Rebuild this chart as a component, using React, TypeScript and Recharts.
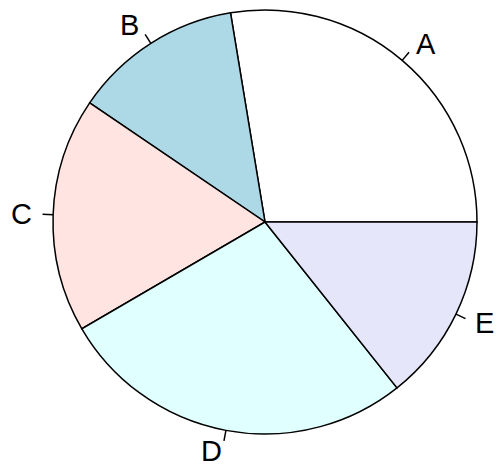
import React from 'react'
import { PieChart, Pie, Cell } from 'recharts'

const labels = ['A', 'B', 'C', 'D', 'E']
const values = [27.6, 12.9, 17.9, 27.3, 14.3]
const colors = ['#FFFFFF', '#ADD8E6', '#FFE4E1', '#E0FFFF', '#E6E6FA']

const data = labels.map((name, i) => ({ name, value: values[i] }))

const RAD = Math.PI / 180

function renderLabel(props: any) {
  const { cx, cy, midAngle, outerRadius, name } = props
  const c = Math.cos(-midAngle * RAD)
  const s = Math.sin(-midAngle * RAD)
  const x1 = cx + outerRadius * c
  const y1 = cy + outerRadius * s
  const x2 = cx + outerRadius * 1.05 * c
  const y2 = cy + outerRadius * 1.05 * s
  const tx = cx + outerRadius * 1.1 * c
  const ty = cy + outerRadius * 1.1 * s
  return (
    <g>
      <line x1={x1} y1={y1} x2={x2} y2={y2} stroke="#000" strokeWidth={1.5} />
      <text
        x={tx}
        y={ty}
        textAnchor={c >= 0 ? 'start' : 'end'}
        dominantBaseline="central"
        fontSize={29}
        fontFamily="Liberation Sans, Arial, sans-serif"
        fill="#000"
      >
        {name}
      </text>
    </g>
  )
}

export default function App() {
  return (
    <div style={{ position: 'absolute', left: 0, top: 0, background: '#fff' }}>
      <PieChart width={498} height={467} margin={{ top: 0, right: 0, bottom: 0, left: 0 }}>
        <Pie
          data={data}
          dataKey="value"
          cx={265}
          cy={222}
          outerRadius={212}
          startAngle={0}
          endAngle={360}
          stroke="#000"
          strokeWidth={1.5}
          label={renderLabel}
          labelLine={false}
          isAnimationActive={false}
        >
          {data.map((d, i) => (
            <Cell key={d.name} fill={colors[i]} />
          ))}
        </Pie>
      </PieChart>
    </div>
  )
}
